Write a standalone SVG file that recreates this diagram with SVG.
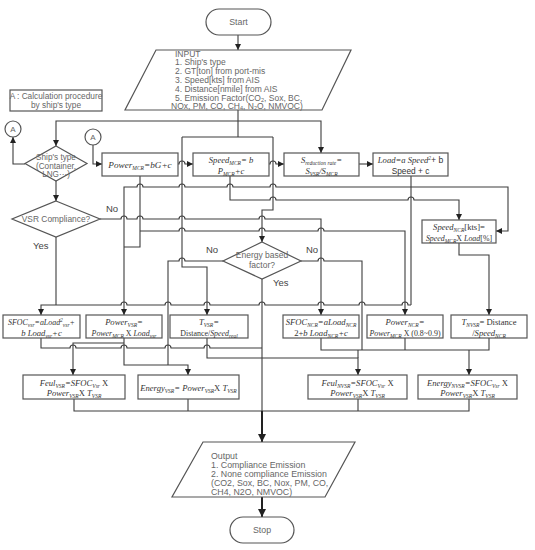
<svg xmlns="http://www.w3.org/2000/svg" width="535" height="550" viewBox="0 0 535 550">
<defs>
<marker id="ar" markerUnits="userSpaceOnUse" markerWidth="7" markerHeight="7" refX="6" refY="3" orient="auto"><path d="M0,0 L6,3 L0,6 z" fill="#222"/></marker>
<marker id="ar2" markerUnits="userSpaceOnUse" markerWidth="9" markerHeight="9" refX="8" refY="4" orient="auto"><path d="M0,0 L8,4 L0,8 z" fill="#222"/></marker>
<style>
.bx{fill:#fff;stroke:#555;stroke-width:1.2}
.c{fill:none;stroke:#3c3c3c;stroke-width:1.1}
.a{marker-end:url(#ar)}
.t{font-family:"Liberation Sans",Arial,sans-serif;font-size:8.8px;fill:#666}
.in{font-size:8.5px}
.m{text-anchor:middle}
.lb{font-family:"Liberation Sans",Arial,sans-serif;font-size:9.5px;fill:#444}
.f{font-family:"Liberation Serif","Times New Roman",serif;font-style:italic;font-size:8.6px;fill:#333;text-anchor:middle}
.n{font-style:normal}
.sn{font-family:"Liberation Sans",Arial,sans-serif;font-style:normal}
.sb{font-size:5.5px;baseline-shift:-1.8px}
.sp{font-size:5.5px;baseline-shift:3px}
.si{font-size:5.5px;baseline-shift:-0.8px}
.k{font-size:7.9px}
</style>
</defs>

<g id="connectors">
<path class="c a" d="M238,35 V50"/>
<path class="c" d="M238,110 V137"/>
<path class="c a" d="M238,121 H56 V146"/>
<path class="c a" d="M238,121 H321 V153"/>
<path class="c" d="M182,137 H273"/>
<path class="c a" d="M182,137 V267 H207 V315"/>
<path class="c a" d="M273,137 V210 H262 V242"/>
<path class="c a" d="M25,164 H13 V137"/>
<path class="c a" d="M93,145 V164 H102"/>
<path class="c a" d="M56,181 V201"/>
<path class="c a" d="M178,164 H179 A3,3 0 0 1 185,164 H193"/>
<path class="c a" d="M268,164 H270 A3,3 0 0 1 276,164 H284"/>
<path class="c a" d="M359,164 H373"/>
<path class="c" d="M411,176 V305"/>
<path class="c a" d="M411,187 H508 V231 H496"/>
<path class="c a" d="M411,187 H276 A3,3 0 0 0 270,187 H233 A3,3 0 0 0 227,187 H185 A3,3 0 0 0 179,187 H143 A3,3 0 0 0 137,187 H124 V315"/>
<path class="c a" d="M230,176 V200 H270 A3,3 0 0 1 276,200 H408 A3,3 0 0 1 414,200 H459 V220"/>
<path class="c" d="M140,176 V247 H124"/>
<path class="c a" d="M140,231 H179 A3,3 0 0 1 185,231 H259 A3,3 0 0 1 265,231 H318 A3,3 0 0 1 324,231 H405 V315"/>
<path class="c a" d="M100,219 H121 A3,3 0 0 1 127,219 H137 A3,3 0 0 1 143,219 H179 A3,3 0 0 1 185,219 H259 A3,3 0 0 1 265,219 H321 V315"/>
<path class="c" d="M56,237 V305"/>
<path class="c a" d="M411,305 H408 A3,3 0 0 0 402,305 H365 A3,3 0 0 0 359,305 H324 A3,3 0 0 0 318,305 H265 A3,3 0 0 0 259,305 H210 A3,3 0 0 0 204,305 H171 A3,3 0 0 0 165,305 H127 A3,3 0 0 0 121,305 H41 V315"/>
<path class="c" d="M223,261 H185 A3,3 0 0 0 179,261 H168 V365"/>
<path class="c" d="M301,261 H318 A3,3 0 0 1 324,261 H362 V350"/>
<path class="c" d="M262,279 V411"/>
<path class="c" d="M41,338 V348 H70 A3,3 0 0 1 76,348 H121 A3,3 0 0 1 127,348 H165 A3,3 0 0 1 171,348 H204 A3,3 0 0 1 210,348 H262"/>
<path class="c a" d="M124,338 V365 H188 V375"/>
<path class="c a" d="M124,343 H73 V375"/>
<path class="c a" d="M207,338 V358 H358 V375"/>
<path class="c" d="M321,338 V350 H489 V338"/>
<path class="c" d="M405,338 V350"/>
<path class="c" d="M358,350 V358"/>
<path class="c a" d="M469,350 V375"/>
<path class="c a" d="M459,243 V255 H489 V315"/>
<path class="c" d="M74,399 V411 H469 V399"/>
<path class="c" d="M188,399 V411"/>
<path class="c" d="M358,399 V411"/>
<path class="c" style="stroke-width:2;stroke:#222;marker-end:url(#ar2)" d="M262,411 V442"/>
<path class="c" style="stroke-width:2;stroke:#222;marker-end:url(#ar2)" d="M262,497 V517"/>
</g>

<g id="start"><rect class="bx" x="206" y="9" width="65" height="26" rx="13"/><text class="t m" x="238.5" y="25">Start</text></g>

<g id="input"><polygon class="bx" points="156,50 351,50 322,110 125,110"/>
<text class="t in" x="175" y="56.5">INPUT</text>
<text class="t in" x="175" y="65.3">1. Ship's type</text>
<text class="t in" x="175" y="74.1">2. GT[ton] from port-mis</text>
<text class="t in" x="175" y="82.9">3. Speed[kts] from AIS</text>
<text class="t in" x="175" y="91.7">4. Distance[nmile] from AIS</text>
<text class="t in" x="175" y="100.5">5. Emission Factor(CO<tspan class="si">2</tspan>, Sox, BC,</text>
<text class="t in" x="171" y="109.3">NOx, PM, CO, CH<tspan class="si">4</tspan>, N<tspan class="si">2</tspan>O, NMVOC)</text>
</g>

<g id="note"><rect class="bx" x="10" y="90" width="92" height="21"/><text class="t m" x="56" y="99" style="font-size:8.3px">A : Calculation procedure</text><text class="t m" x="56" y="108" style="font-size:8.3px">by ship's type</text></g>

<g id="circleA1"><circle class="bx" cx="13" cy="129" r="8"/><text class="t m" x="13" y="132" style="font-size:8px">A</text></g>
<g id="circleA2"><circle class="bx" cx="93" cy="137" r="8"/><text class="t m" x="93" y="140" style="font-size:8px">A</text></g>

<g id="shiptype"><polygon class="bx" points="56,146 87,163.5 56,181 25,163.5"/>
<text class="t m" x="56" y="160" style="font-size:8.2px">Ship's type</text><text class="t m" x="56" y="168.5" style="font-size:8.2px">(Container,</text><text class="t m" x="56" y="177" style="font-size:8.2px">LNG···)</text></g>

<g id="vsr"><polygon class="bx" points="56,201 100,219 56,237 12,219"/><text class="t m" x="56" y="222" style="font-size:8.4px">VSR Compliance?</text></g>

<g id="energy"><polygon class="bx" points="262,242 301,261 262,279 223,261"/><text class="t m" x="262" y="258" style="font-size:8.5px">Energy based</text><text class="t m" x="262" y="268" style="font-size:8.5px">factor?</text></g>

<g id="labels">
<text class="lb" x="106" y="212">No</text>
<text class="lb" x="33" y="249">Yes</text>
<text class="lb" x="206" y="253">No</text>
<text class="lb" x="306" y="253">No</text>
<text class="lb" x="273" y="286">Yes</text>
</g>

<g id="powerMCR"><rect class="bx" x="102" y="153" width="76" height="23"/><text class="f" x="140" y="167.5" style="font-size:9.2px">Power<tspan class="sb">MCR</tspan>=bG+c</text></g>
<g id="speedMCR"><rect class="bx" x="193" y="153" width="76" height="23"/><text class="f" x="231" y="163">Speed<tspan class="sb">MCR</tspan>= b</text><text class="f" x="231" y="173.5">P<tspan class="sb">MCR</tspan>+c</text></g>
<g id="sreduction"><rect class="bx" x="284" y="153" width="75" height="23"/><text class="f" x="321.5" y="163">S<tspan class="sb">reduction rate</tspan>=</text><text class="f" x="321.5" y="173.5">S<tspan class="sb">VSR</tspan>/S<tspan class="sb">MCR</tspan></text></g>
<g id="load"><rect class="bx" x="373" y="153" width="75" height="23"/><text class="f" x="410.5" y="163">Load=a Speed<tspan class="sp">2</tspan><tspan class="sn">+ b</tspan></text><text class="t m" x="410.5" y="173.5" style="fill:#333;font-size:8.3px">Speed + c</text></g>
<g id="speedNCR"><rect class="bx" x="422" y="220" width="74" height="23"/><text class="f" x="459" y="230">Speed<tspan class="sb">NCR</tspan><tspan class="n">[kts]=</tspan></text><text class="f k" x="459" y="240.5">Speed<tspan class="sb">MCR</tspan><tspan class="n">X </tspan>Load<tspan class="n">[%]</tspan></text></g>

<g id="sfocVsr"><rect class="bx" x="3" y="315" width="77" height="23"/><text class="f k" x="41.5" y="325">SFOC<tspan class="sb">vsr</tspan>=aLoad<tspan class="sp">2</tspan><tspan class="sb">vsr</tspan>+</text><text class="f" x="41.5" y="335.5">b Load<tspan class="sb">vsr</tspan>+c</text></g>
<g id="powerVSR"><rect class="bx" x="86" y="315" width="76" height="23"/><text class="f" x="124" y="325">Power<tspan class="sb">VSR</tspan>=</text><text class="f k" x="124" y="335.5">Power<tspan class="sb">MCR</tspan><tspan class="n"> X </tspan>Load<tspan class="sb">vsr</tspan></text></g>
<g id="tVSR"><rect class="bx" x="170" y="315" width="78" height="23"/><text class="f" x="209" y="325">T<tspan class="sb">VSR</tspan>=</text><text class="f k" x="209" y="335.5"><tspan class="n">Distance/</tspan>Speed<tspan class="sb">real</tspan></text></g>
<g id="sfocNCR"><rect class="bx" x="283" y="315" width="76" height="23"/><text class="f" x="321" y="325">SFOC<tspan class="sb">NCR</tspan>=aLoad<tspan class="sb">NCR</tspan></text><text class="f" x="321" y="335.5"><tspan class="n">2+</tspan>b Load<tspan class="sb">NCR</tspan>+c</text></g>
<g id="powerNCR"><rect class="bx" x="367" y="315" width="76" height="23"/><text class="f" x="405" y="325">Power<tspan class="sb">NCR</tspan>=</text><text class="f k" x="405" y="335.5">Power<tspan class="sb">MCR</tspan><tspan class="n"> X (0.8~0.9)</tspan></text></g>
<g id="tNVSR"><rect class="bx" x="451" y="315" width="76" height="23"/><text class="f" x="489" y="325">T<tspan class="sb">NVSR</tspan><tspan class="n">= Distance</tspan></text><text class="f" x="489" y="335.5"><tspan class="n">/</tspan>Speed<tspan class="sb">NCR</tspan></text></g>

<g id="feulVSR"><rect class="bx" x="23" y="375" width="102" height="24"/><text class="f" x="74" y="385.5">Feul<tspan class="sb">VSR</tspan>=SFOC<tspan class="sb">Vsr</tspan><tspan class="n"> X</tspan></text><text class="f" x="74" y="396">Power<tspan class="sb">VSR</tspan><tspan class="n">X </tspan>T<tspan class="sb">VSR</tspan></text></g>
<g id="energyVSR"><rect class="bx" x="138" y="375" width="101" height="24"/><text class="f" x="188.5" y="391">Energy<tspan class="sb">VSR</tspan>= Power<tspan class="sb">VSR</tspan><tspan class="n">X </tspan>T<tspan class="sb">VSR</tspan></text></g>
<g id="feulNVSR"><rect class="bx" x="308" y="375" width="99" height="24"/><text class="f" x="357.5" y="385.5">Feul<tspan class="sb">NVSR</tspan>=SFOC<tspan class="sb">Vsr</tspan><tspan class="n"> X</tspan></text><text class="f" x="357.5" y="396">Power<tspan class="sb">VSR</tspan><tspan class="n">X </tspan>T<tspan class="sb">VSR</tspan></text></g>
<g id="energyNVSR"><rect class="bx" x="418" y="375" width="99" height="24"/><text class="f" x="467.5" y="385.5">Energy<tspan class="sb">NVSR</tspan>=SFOC<tspan class="sb">Vsr</tspan><tspan class="n"> X</tspan></text><text class="f" x="467.5" y="396">Power<tspan class="sb">VSR</tspan><tspan class="n">X </tspan>T<tspan class="sb">VSR</tspan></text></g>

<g id="output"><polygon class="bx" points="203,442 355,442 325,497 172,497"/>
<text class="t" x="211" y="459">Output</text>
<text class="t" x="211" y="468">1. Compliance Emission</text>
<text class="t" x="211" y="477">2. None compliance Emission</text>
<text class="t" x="211" y="486">(CO2, Sox, BC, Nox, PM, CO,</text>
<text class="t" x="211" y="495">CH4, N2O, NMVOC)</text>
</g>

<g id="stop"><rect class="bx" x="230" y="517" width="64" height="26" rx="13"/><text class="t m" x="262" y="533">Stop</text></g>
</svg>
